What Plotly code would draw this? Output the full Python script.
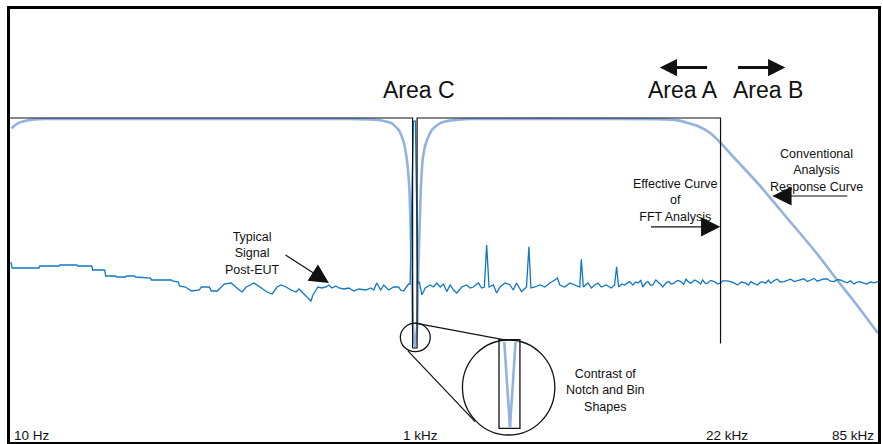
import plotly.graph_objects as go

# Horizontal axis is a schematic frequency axis: positions along the plot,
# with the labelled frequencies at these positions.
tick_text = ["10 Hz", "1 kHz", "22 kHz", "85 kHz"]
tick_pos = [0, 406.5, 713, 871]

# Effective response of the FFT analysis (bin-based): flat, one notch bin at 1 kHz,
# hard cut at 22 kHz.
fft_pos = [0, 404, 404, 408.5, 408.5, 713, 713]
fft_db = [0, 0, -57.5, -57.5, 0, 0, -56.4]

# Conventional analysis response: high-pass at the bottom end, notch at 1 kHz,
# low-pass roll-off above 22 kHz.
conv_pos = [1.5, 5, 10, 17, 25, 35, 60, 200, 340, 367, 375, 383, 390, 395, 398, 400.7,
            402.3, 403.3, 404.3, 406.3, 408.5, 409.5, 410.7, 412.3, 414.3, 417.7, 423.3,
            431.7, 442, 450, 462, 600, 650, 670, 690, 703, 713, 725, 740, 757, 773, 790,
            810, 830, 850, 871]
conv_db = [-2.6, -1.8, -1.1, -0.6, -0.35, -0.25, -0.25, -0.25, -0.25, -0.45, -0.75, -1.3,
           -3.0, -6.0, -10.0, -17.5, -30.0, -40.0, -52.0, -57.3, -52.0, -40.0, -30.0,
           -17.5, -10.0, -6.0, -3.0, -1.3, -0.6, -0.4, -0.25, -0.25, -0.3, -0.6, -2.0,
           -3.8, -6.2, -9.5, -13.5, -18.2, -23.0, -28.0, -34.0, -40.5, -46.8, -53.8]

# Typical signal after the EUT (test tone at 1 kHz, harmonics, noise floor).
sig_pos = [1, 2, 29, 30, 49, 50, 67, 68, 82, 83, 95, 96, 106, 107, 116, 117, 125, 126,
           141, 142, 162, 163, 169, 170, 176, 182, 190, 192, 200, 202, 208, 212, 215,
           222, 225, 230, 233, 237, 245, 248, 253, 258, 263, 268, 272, 277, 282, 287,
           290, 293, 297, 300, 302, 304, 307, 309, 313, 317, 320, 323, 327, 330, 335,
           340, 345, 350, 357, 362, 365, 368, 372, 375, 380, 385, 390, 392, 395, 397,
           400, 401.5, 404.8, 406.8, 409.2, 410.7, 413.3, 416.7, 421.7, 425, 428.3,
           431.7, 435, 438.3, 441.7, 445, 448.3, 453.3, 458.3, 461.7, 465, 470, 473.3,
           476, 478.3, 480.7, 485, 488.3, 491.7, 496.7, 501.7, 505, 508.3, 513.3, 518.3,
           520.7, 522.7, 526.7, 531.7, 536.7, 541.7, 546.7, 549.3, 551.7, 556.7, 561.7,
           566.7, 571.7, 573.3, 575.3, 580, 583.5, 586.7, 590, 593.3, 598.3, 603.3, 606.7,
           608.7, 610.7, 614, 616.7, 621.7, 625, 628, 630, 633, 635, 638, 640, 643, 645,
           648, 650, 653, 655, 658.3, 661, 663.3, 666, 670, 673.3, 676, 678.3, 681,
           683.3, 687, 690, 693, 695, 698, 700, 703, 706.7, 710, 713.3, 715, 719, 723.3,
           727, 730, 734, 738.3, 741, 743.3, 747, 750, 753, 755, 758.3, 761, 763.3, 767,
           770, 773, 776.7, 780, 783.3, 787, 790, 793, 796.7, 800, 803.3, 807, 810, 813,
           816.7, 820, 823.3, 827, 830, 833, 836.7, 840, 843.3, 847, 850, 853, 856.7,
           860, 863.3, 867, 871]
sig_db = [-36.0, -37.5, -37.5, -37.0, -37.0, -36.75, -36.75, -37.0, -37.0, -38.0, -38.0,
          -39.5, -39.5, -39.75, -39.75, -39.5, -39.5, -39.75, -40.0, -40.5, -40.5, -40.75,
          -41.0, -42.0, -42.25, -43.25, -43.0, -42.25, -42.25, -43.25, -43.25, -42.25,
          -41.5, -41.25, -42.0, -43.0, -43.5, -42.25, -41.25, -41.75, -42.5, -43.5, -44.0,
          -42.25, -41.75, -42.25, -43.0, -43.5, -42.75, -43.5, -44.25, -45.25, -45.75,
          -44.25, -43.0, -42.25, -42.5, -42.25, -41.75, -42.5, -42.0, -42.5, -42.75,
          -42.5, -43.25, -42.75, -43.0, -42.5, -43.0, -41.25, -43.0, -41.75, -43.0,
          -42.25, -42.25, -43.0, -43.25, -42.5, -41.5, -41.5, -0.8, -0.8, -41.5, -40.9,
          -44.25, -42.5, -41.75, -42.25, -41.25, -42.25, -41.5, -43.4, -41.75, -43.0,
          -43.75, -42.25, -41.75, -42.5, -42.25, -41.25, -42.5, -42.25, -31.75, -42.25,
          -41.75, -43.75, -42.25, -41.25, -41.75, -43.0, -41.25, -43.4, -42.25, -32.2,
          -42.5, -42.25, -41.75, -42.25, -41.25, -40.5, -40.0, -41.75, -42.25, -41.25,
          -41.75, -42.25, -35.3, -42.25, -41.25, -42.5, -41.75, -41.25, -42.25, -41.75,
          -42.5, -41.75, -37.2, -42.25, -41.5, -41.75, -40.9, -41.75, -41.0, -41.25,
          -40.6, -42.25, -41.2, -40.9, -41.8, -41.75, -40.5, -40.9, -41.6, -42.25, -41.2,
          -40.9, -41.5, -41.3, -40.6, -40.9, -41.6, -40.3, -41.0, -41.3, -40.5, -40.9,
          -41.5, -40.5, -41.4, -41.3, -40.6, -40.9, -41.5, -41.2, -40.7, -40.7, -40.9,
          -41.3, -41.75, -41.0, -41.3, -41.75, -40.9, -41.4, -41.75, -41.1, -40.9, -41.3,
          -40.5, -41.3, -40.6, -40.3, -41.0, -40.9, -40.5, -40.3, -40.9, -40.7, -40.4,
          -40.2, -40.9, -40.5, -40.1, -40.8, -40.5, -40.2, -40.25, -40.8, -40.9, -40.4,
          -40.5, -40.9, -41.2, -40.7, -41.5, -41.0, -40.9, -41.3, -41.5, -41.0, -41.2,
          -40.9, -41.5]

BLACK = "#111111"
SIGNAL = "#1077c4"
CONV = "#93b2df"
FONT = "Liberation Sans, Arial, sans-serif"

fig = go.Figure()
fig.add_trace(go.Scatter(x=conv_pos, y=conv_db, mode="lines",
                         line=dict(color=CONV, width=2.6, shape="spline", smoothing=0.5),
                         hoverinfo="skip"))
fig.add_trace(go.Scatter(x=sig_pos, y=sig_db, mode="lines",
                         line=dict(color=SIGNAL, width=1.3), hoverinfo="skip"))
fig.add_trace(go.Scatter(x=fft_pos, y=fft_db, mode="lines",
                         line=dict(color=BLACK, width=1.2), hoverinfo="skip"))

shapes = [
    # magnifier: small ring round the notch bin, big ring with the enlarged bin
    dict(type="circle", xref="x", yref="y", x0=391.7, x1=421.7, y0=-58.4, y1=-51.3,
         line=dict(color=BLACK, width=1.3)),
    dict(type="line", xref="x", yref="y", x0=406.7, y0=-51.3, x1=511.7, y1=-56.2,
         line=dict(color=BLACK, width=1.2)),
    dict(type="line", xref="x", yref="y", x0=399.3, y0=-58.2, x1=466.7, y1=-75.9,
         line=dict(color=BLACK, width=1.2)),
    dict(type="circle", xref="x", yref="y", x0=454, x1=546.7, y0=-79.25, y1=-55.5,
         line=dict(color=BLACK, width=1.3), fillcolor="white"),
    dict(type="line", xref="x", yref="y", x0=496, y0=-56, x1=501.7, y1=-77.3,
         line=dict(color=CONV, width=2.6)),
    dict(type="line", xref="x", yref="y", x0=507.3, y0=-56, x1=501.7, y1=-77.3,
         line=dict(color=CONV, width=2.6)),
    dict(type="rect", xref="x", yref="y", x0=490.7, x1=511.7, y0=-77.6, y1=-55.4,
         line=dict(color=BLACK, width=1.3)),
]

ann = []
for txt, p, anchor, shift in zip(tick_text, tick_pos, ["left", "center", "center", "right"],
                                  [2, 5, 6, -2]):
    ann.append(dict(x=p, y=-79.25, xref="x", yref="y", text=txt, showarrow=False,
                    xanchor=anchor, yanchor="middle", xshift=shift,
                    font=dict(size=13.5, color=BLACK, family=FONT)))

big = dict(size=23, color=BLACK, family=FONT)
small = dict(size=12.5, color=BLACK, family=FONT)
ann += [
    dict(x=410, y=7.0, text="Area C", showarrow=False, font=big),
    dict(x=675, y=7.0, text="Area A", showarrow=False, font=big),
    dict(x=761, y=7.0, text="Area B", showarrow=False, font=big),
    dict(x=243, y=-33.75, text="Typical<br>Signal<br>Post-EUT", showarrow=False, font=small),
    dict(x=668, y=-20.5, text="Effective Curve<br>of<br>FFT Analysis", showarrow=False, font=small),
    dict(x=809, y=-13.0, text="Conventional<br>Analysis<br>Response Curve", showarrow=False, font=small),
    dict(x=598, y=-68.0, text="Contrast of<br>Notch and Bin<br>Shapes", showarrow=False, font=small),
]
arrows = [
    # (tip x, tip y, tail x, tail y, width, size)
    (652, 12.6, 701, 12.6, 3, 1.15),
    (778, 12.6, 729, 12.6, 3, 1.15),
    (320, -41.25, 275, -34.0, 1.2, 3.2),
    (712.7, -27.2, 641.7, -27.2, 1.2, 3.2),
    (765, -19.5, 841.7, -19.5, 1.2, 3.2),
]
for tx, ty, sx, sy, w, s in arrows:
    ann.append(dict(x=tx, y=ty, ax=sx, ay=sy, xref="x", yref="y", axref="x", ayref="y",
                    text="", showarrow=True, arrowhead=2, arrowwidth=w, arrowsize=s,
                    arrowcolor=BLACK, standoff=0))

fig.update_layout(
    width=883, height=444,
    margin=dict(l=10, r=2, t=9, b=2),
    paper_bgcolor="white", plot_bgcolor="white",
    showlegend=False,
    shapes=shapes, annotations=ann,
    xaxis=dict(range=[0, 871], showgrid=False, zeroline=False, showticklabels=False,
               ticks="", showline=True, mirror=True, linecolor="black", linewidth=3,
               fixedrange=True),
    yaxis=dict(range=[-81, 27.25], showgrid=False, zeroline=False, showticklabels=False,
               ticks="", showline=True, mirror=True, linecolor="black", linewidth=3,
               fixedrange=True),
)

fig.write_html("out.html", config={"displayModeBar": False})
